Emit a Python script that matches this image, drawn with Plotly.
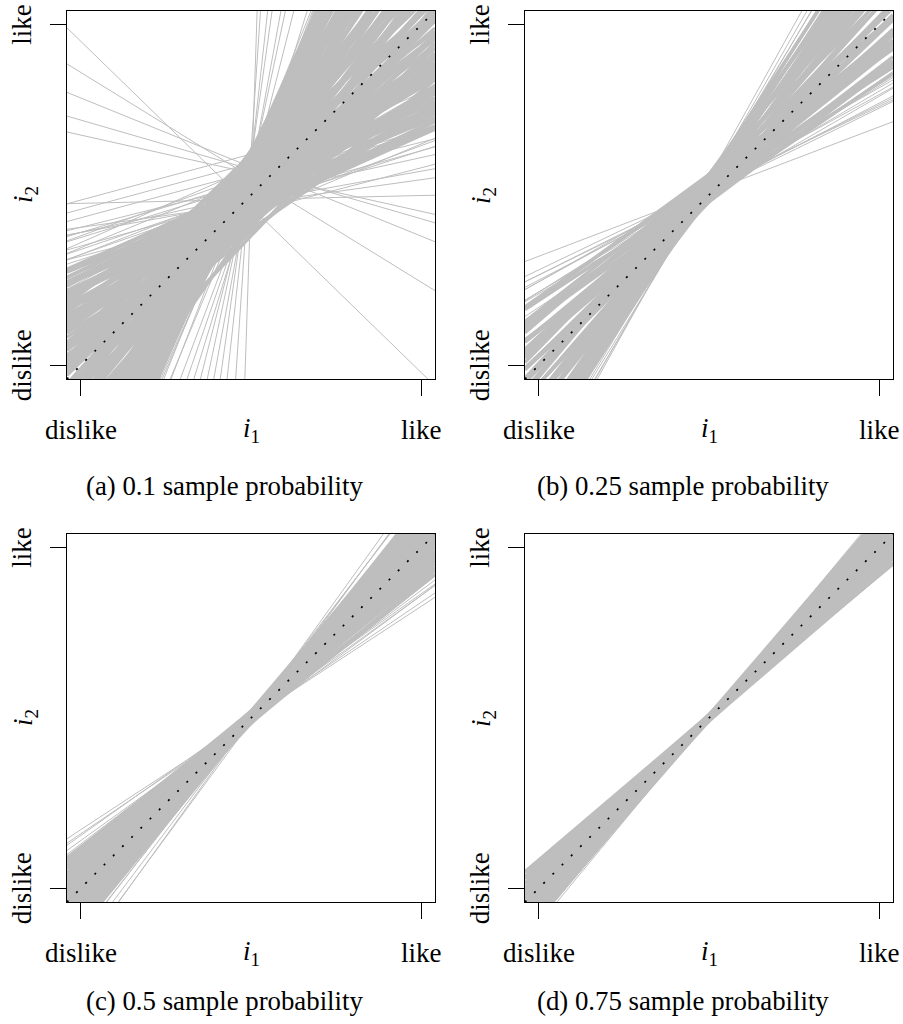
import plotly.graph_objects as go

# Bootstrap fits of i2 on i1, one (fitted i2 at the i1 midpoint, slope) pair per fit.
# "core" fits form the dense part of each fan, "spread" fits are the scattered ones.
fits_p010_core = [
    (0.50, 0.42), (0.47, 0.43), (0.52, 0.44), (0.45, 0.45), (0.49, 0.46), (0.53, 0.47),
    (0.46, 0.48), (0.51, 0.49), (0.48, 0.50), (0.44, 0.51), (0.52, 0.52), (0.47, 0.54),
    (0.50, 0.55), (0.54, 0.57), (0.45, 0.58), (0.49, 0.60),
    (0.52, 0.61), (0.43, 0.62), (0.47, 0.64), (0.55, 0.65), (0.50, 0.66), (0.45, 0.68),
    (0.53, 0.69), (0.48, 0.70), (0.42, 0.72), (0.51, 0.73), (0.56, 0.75), (0.46, 0.76),
    (0.49, 0.78), (0.53, 0.79), (0.44, 0.81), (0.50, 0.82), (0.57, 0.84), (0.47, 0.85),
    (0.52, 0.87), (0.41, 0.88), (0.55, 0.90), (0.48, 0.91), (0.51, 0.93), (0.45, 0.95),
    (0.58, 0.96), (0.50, 0.98), (0.43, 0.99),
    (0.53, 1.01), (0.47, 1.03), (0.56, 1.04), (0.50, 1.06), (0.44, 1.08), (0.54, 1.10),
    (0.59, 1.11), (0.48, 1.13), (0.52, 1.15), (0.45, 1.17), (0.57, 1.19), (0.50, 1.21),
    (0.55, 1.23), (0.47, 1.25), (0.60, 1.27), (0.53, 1.29), (0.49, 1.31), (0.57, 1.33),
    (0.51, 1.36), (0.46, 1.38), (0.59, 1.40), (0.54, 1.43), (0.50, 1.45), (0.56, 1.48),
    (0.61, 1.50),
    (0.52, 1.52), (0.58, 1.55), (0.48, 1.58), (0.55, 1.61), (0.60, 1.64), (0.51, 1.67),
    (0.57, 1.70), (0.54, 1.73), (0.62, 1.76), (0.50, 1.80), (0.58, 1.83), (0.55, 1.87),
    (0.60, 1.91), (0.53, 1.95), (0.57, 1.99), (0.62, 2.03), (0.55, 2.07), (0.59, 2.12),
    (0.56, 2.17), (0.61, 2.22), (0.58, 2.27),
    (0.46, 0.445), (0.51, 0.465), (0.48, 0.485), (0.53, 0.505), (0.50, 0.53), (0.45, 0.56),
    (0.52, 0.59), (0.48, 0.63), (0.55, 0.67), (0.40, 0.69), (0.50, 0.71), (0.58, 0.74),
    (0.46, 0.77), (0.53, 0.80), (0.39, 0.83), (0.60, 0.86), (0.49, 0.89), (0.55, 0.92),
    (0.41, 0.94), (0.62, 0.97), (0.47, 1.00), (0.53, 1.02), (0.38, 1.05), (0.60, 1.07),
    (0.50, 1.09), (0.43, 1.12), (0.62, 1.14), (0.55, 1.16), (0.48, 1.20), (0.40, 1.22),
    (0.58, 1.24), (0.52, 1.28), (0.63, 1.32), (0.47, 1.34), (0.56, 1.37), (0.42, 1.41),
    (0.60, 1.44), (0.52, 1.47), (0.63, 1.53), (0.49, 1.56), (0.57, 1.59), (0.61, 1.68),
    (0.53, 1.72), (0.59, 1.78), (0.56, 1.85), (0.63, 1.93), (0.58, 2.00), (0.60, 2.09),
    (0.57, 2.14), (0.62, 2.20),
    (0.46, 0.75), (0.44, 0.85), (0.48, 0.80), (0.42, 0.95), (0.50, 0.72), (0.45, 0.80),
    (0.47, 0.82), (0.49, 0.67), (0.51, 0.63),
]
fits_p010_spread = [
    (0.48, 0.18), (0.50, 0.22), (0.53, 0.25), (0.45, 0.26), (0.49, 0.28), (0.54, 0.30),
    (0.53, 0.31), (0.47, 0.32), (0.51, 0.34), (0.50, 0.35), (0.56, 0.36), (0.46, 0.37),
    (0.52, 0.39), (0.49, 0.40), (0.55, 0.41), (0.44, 0.42), (0.58, 0.44),
    (0.50, 0.50), (0.52, 0.55), (0.49, 0.62), (0.51, 0.58), (0.47, 0.66), (0.53, 0.60),
    (0.620, 0.27), (0.593, 0.27), (0.568, 0.27), (0.487, 0.023), (0.475, 0.14),
    (0.465, -0.973), (0.552, -0.616), (0.582, -0.406), (0.575, -0.29), (0.564, -0.224),
    (0.500, 30.0), (0.627, 14.8), (0.597, 9.07), (0.601, 7.10), (0.559, 5.48),
    (0.565, 4.71), (0.545, 3.94), (0.505, 3.25), (0.506, 2.91), (0.512, 2.66),
    (0.529, 2.40), (0.550, 2.22), (0.560, 2.30), (0.530, 2.05), (0.600, 2.50), (0.570, 2.60),
]

fits_p025_core = [
    (0.52, 0.66), (0.49, 0.68), (0.55, 0.70), (0.51, 0.71), (0.56, 0.73), (0.48, 0.75),
    (0.53, 0.76), (0.55, 0.78), (0.50, 0.80), (0.54, 0.81), (0.52, 0.83), (0.49, 0.85),
    (0.56, 0.86), (0.51, 0.88), (0.53, 0.90), (0.48, 0.91), (0.55, 0.93), (0.50, 0.95),
    (0.54, 0.96), (0.52, 0.98), (0.49, 1.00), (0.56, 1.02), (0.51, 1.03), (0.53, 1.05),
    (0.48, 1.07), (0.55, 1.09), (0.50, 1.11), (0.54, 1.13), (0.52, 1.15), (0.49, 1.17),
    (0.56, 1.19), (0.51, 1.21), (0.53, 1.23), (0.50, 1.25), (0.55, 1.27), (0.52, 1.29),
    (0.49, 1.31), (0.54, 1.33), (0.51, 1.35), (0.56, 1.37), (0.53, 1.39), (0.50, 1.41),
    (0.55, 1.43), (0.52, 1.45), (0.54, 1.47), (0.51, 1.49), (0.53, 1.51), (0.55, 1.53),
    (0.52, 1.55), (0.54, 1.57),
    (0.50, 0.72), (0.49, 0.77), (0.50, 0.84), (0.49, 0.92),
]
fits_p025_spread = [
    (0.51, 0.38), (0.51, 0.49), (0.515, 0.50), (0.52, 0.48), (0.51, 0.52), (0.52, 0.55),
    (0.53, 0.57), (0.51, 0.59), (0.52, 0.61), (0.53, 0.63), (0.51, 0.64),
    (0.50, 0.58), (0.51, 0.62), (0.50, 0.66), (0.49, 0.69),
    (0.53, 1.60), (0.52, 1.63), (0.54, 1.66), (0.53, 1.70), (0.54, 1.74), (0.55, 1.80),
]

fits_p050_core = [
    (0.500, 0.78), (0.515, 0.79), (0.490, 0.80), (0.505, 0.81), (0.520, 0.82), (0.485, 0.83),
    (0.500, 0.84), (0.510, 0.86), (0.495, 0.87), (0.515, 0.88), (0.490, 0.89), (0.505, 0.90),
    (0.520, 0.91), (0.485, 0.92), (0.500, 0.93), (0.510, 0.95), (0.495, 0.96), (0.515, 0.97),
    (0.490, 0.98), (0.505, 0.99), (0.520, 1.00), (0.485, 1.01), (0.500, 1.02), (0.510, 1.04),
    (0.495, 1.05), (0.515, 1.06), (0.490, 1.07), (0.505, 1.08), (0.520, 1.09), (0.485, 1.10),
    (0.500, 1.11), (0.510, 1.13), (0.495, 1.14), (0.515, 1.15), (0.490, 1.16), (0.505, 1.17),
    (0.520, 1.18), (0.500, 1.20), (0.510, 1.21), (0.495, 1.22), (0.505, 1.24),
]
fits_p050_spread = [
    (0.50, 0.656), (0.50, 0.68), (0.51, 0.71), (0.50, 0.72), (0.49, 0.74), (0.50, 0.75),
    (0.51, 0.76), (0.50, 1.27), (0.51, 1.30), (0.50, 1.33), (0.49, 1.36), (0.50, 1.39),
]

fits_p075_core = [
    (0.500, 0.84), (0.508, 0.85), (0.492, 0.86), (0.502, 0.87), (0.510, 0.88), (0.495, 0.89),
    (0.500, 0.90), (0.506, 0.91), (0.491, 0.92), (0.501, 0.93), (0.509, 0.94), (0.496, 0.95),
    (0.504, 0.96), (0.493, 0.97), (0.500, 0.98), (0.507, 0.99), (0.492, 1.00), (0.502, 1.01),
    (0.510, 1.02), (0.495, 1.03), (0.500, 1.04), (0.506, 1.05), (0.491, 1.06), (0.501, 1.07),
    (0.509, 1.08), (0.497, 1.09), (0.504, 1.10), (0.494, 1.11), (0.500, 1.12), (0.507, 1.13),
    (0.493, 1.14), (0.502, 1.15), (0.509, 1.16), (0.498, 1.17), (0.503, 1.18),
]
fits_p075_spread = [(0.50, 0.828), (0.50, 0.835), (0.50, 1.19), (0.50, 1.21)]

tick_values = [0, 1]
tick_labels = ["dislike", "like"]
captions = [
    "(a) 0.1 sample probability",
    "(b) 0.25 sample probability",
    "(c) 0.5 sample probability",
    "(d) 0.75 sample probability",
]

W, H = 903, 1024
AX_RANGE = [-0.04, 1.04]
GRAY = "#bebebe"
FONT = "Liberation Serif"

# panel boxes in pixels: (left, right, top, bottom, caption centre y)
boxes = [(67, 435, 11, 379, 486), (525, 893, 11, 379, 486),
         (67, 435, 534, 902, 1001), (525, 893, 534, 902, 1001)]
panel_fits = [
    (fits_p010_core, fits_p010_spread),
    (fits_p025_core, fits_p025_spread),
    (fits_p050_core, fits_p050_spread),
    (fits_p075_core, fits_p075_spread),
]

fig = go.Figure()
layout = {}
annotations = []


def px_x(p):
    return p / W


def px_y(p):
    return 1 - p / H


for k, ((left, right, top, bottom, cap_y), (core, spread), caption) in enumerate(
        zip(boxes, panel_fits, captions), start=1):
    xa = "x" if k == 1 else f"x{k}"
    ya = "y" if k == 1 else f"y{k}"
    axis = dict(range=AX_RANGE, showgrid=False, zeroline=False, showline=True, mirror=True,
                linecolor="black", linewidth=1, ticks="outside", ticklen=16, tickwidth=1,
                tickcolor="black", tickvals=tick_values, showticklabels=False, fixedrange=True)
    layout["xaxis" if k == 1 else f"xaxis{k}"] = dict(
        axis, domain=[px_x(left), px_x(right)], anchor=ya)
    layout["yaxis" if k == 1 else f"yaxis{k}"] = dict(
        axis, domain=[px_y(bottom), px_y(top)], anchor=xa)

    for fits, width in ((core, 3.4), (spread, 1.0)):
        xs, ys = [], []
        for mid, slope in fits:
            for xv in AX_RANGE:
                xs.append(xv)
                ys.append(mid + slope * (xv - 0.5))
            xs.append(None)
            ys.append(None)
        fig.add_trace(go.Scatter(x=xs, y=ys, mode="lines", xaxis=xa, yaxis=ya,
                                 line=dict(color=GRAY, width=width),
                                 hoverinfo="skip", showlegend=False))

    # reference line i2 = i1
    fig.add_trace(go.Scatter(x=AX_RANGE, y=AX_RANGE, mode="lines", xaxis=xa, yaxis=ya,
                             line=dict(color="black", width=1.7, dash="2px,11px"),
                             hoverinfo="skip", showlegend=False))

    font = dict(family=FONT, size=27, color="black")
    label_row = px_y(bottom + 51)
    for v, t in zip(tick_values, tick_labels):
        annotations.append(dict(text=t, x=v, xref=xa, y=label_row, yref="paper",
                                showarrow=False, xanchor="center", yanchor="middle", font=font))
        annotations.append(dict(text=t, x=px_x(left - 45), xref="paper", y=v, yref=ya,
                                textangle=-90, showarrow=False, xanchor="center",
                                yanchor="middle", font=font))
    annotations.append(dict(text="<i>i</i><sub>1</sub>", x=0.5, xref=xa, y=label_row,
                            yref="paper", showarrow=False, xanchor="center",
                            yanchor="middle", font=font))
    annotations.append(dict(text="<i>i</i><sub>2</sub>", x=px_x(left - 42), xref="paper",
                            y=0.5, yref=ya, textangle=-90, showarrow=False,
                            xanchor="center", yanchor="middle", font=font))
    annotations.append(dict(text=caption, x=px_x(left + 157.5), xref="paper",
                            y=px_y(cap_y), yref="paper", showarrow=False,
                            xanchor="center", yanchor="middle",
                            font=dict(family=FONT, size=26.8, color="black")))

fig.update_layout(width=W, height=H, margin=dict(l=0, r=0, t=0, b=0),
                  paper_bgcolor="white", plot_bgcolor="white", showlegend=False,
                  font=dict(family=FONT, size=27, color="black"),
                  annotations=annotations, **layout)

fig.write_html("out.html")
